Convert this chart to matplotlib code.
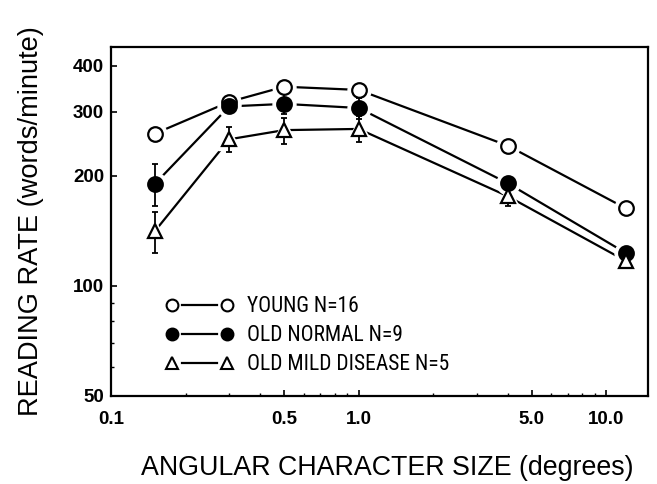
import matplotlib
matplotlib.use("Agg")
import matplotlib.pyplot as plt
from matplotlib.lines import Line2D
from matplotlib.legend_handler import HandlerBase
from matplotlib.ticker import FixedLocator, NullFormatter, FixedFormatter
from matplotlib import font_manager

# ---------------- data ----------------
char_size = [0.15, 0.3, 0.5, 1.0, 4.0, 12.0]

young = [261, 319, 351, 344, 242, 163]
old_normal = [190, 310, 315, 307, 191, 123]
old_normal_err = [25, 0, 20, 20, 0, 0]
old_mild = [141, 252, 267, 269, 176, 117]
old_mild_err = [18, 20, 22, 22, 10, 0]

series_labels = ["YOUNG N=16", "OLD NORMAL N=9", "OLD MILD DISEASE N=5"]

x_major = [0.1, 0.5, 1.0, 5.0, 10.0]
x_major_labels = ["0.1", "0.5", "1.0", "5.0", "10.0"]
x_minor = [0.2, 0.3, 0.4, 0.6, 0.7, 0.8, 0.9, 2, 3, 4, 6, 7, 8, 9]
y_major = [50, 100, 200, 300, 400]
y_major_labels = ["50", "100", "200", "300", "400"]
y_minor = [60, 70, 80, 90]

# ---------------- fonts ----------------
avail = {f.name for f in font_manager.fontManager.ttflist}
base_font = "Liberation Sans" if "Liberation Sans" in avail else "DejaVu Sans"
plt.rcParams["font.family"] = [base_font, "DejaVu Sans"]

legend_font = None
for cand in ["Liberation Sans Narrow", "Roboto Condensed", "DejaVu Sans Condensed",
             "Open Sans Condensed", "Noto Sans Condensed", "Arial Narrow"]:
    if cand in avail:
        legend_font = cand
        break
if legend_font is None:
    for f in font_manager.fontManager.ttflist:
        if str(f.stretch) in ("condensed", "semi-condensed", "extra-condensed") and f.style == "normal":
            legend_font = f.name
            break
if legend_font is None:
    legend_prop = dict(family=base_font, size=13.5)
else:
    legend_prop = dict(family=legend_font, size=15.5, stretch="condensed")

fig = plt.figure(figsize=(6.57, 4.84), dpi=100)
ax = fig.add_axes([0.169, 0.182, 0.817, 0.721])

ax.set_xscale("log")
ax.set_yscale("log")
ax.set_xlim(0.1, 14.7)
ax.set_ylim(50, 451)

lw = 1.6
ms_c = 10.5
ms_t = 10

styles = [
    dict(marker="o", mfc="white", ms=ms_c),
    dict(marker="o", mfc="black", ms=ms_c),
    dict(marker="^", mfc="white", ms=ms_t),
]
data = [young, old_normal, old_mild]
errs = [None, old_normal_err, old_mild_err]

# connecting lines
for y in data:
    ax.plot(char_size, y, "-", color="black", lw=lw, zorder=2)
# white halos to create the gap between line and marker
for y, st in zip(data, styles):
    ax.plot(char_size, y, linestyle="none", marker=st["marker"], ms=st["ms"] + 6,
            mfc="white", mec="white", zorder=2.5)
# error bars
for y, e in zip(data, errs):
    if e is None:
        continue
    ax.errorbar(char_size, y, yerr=e, fmt="none", ecolor="black", elinewidth=1.3,
                capsize=2.5, capthick=1.3, zorder=2.7)
# markers
for y, st in zip(data, styles):
    ax.plot(char_size, y, linestyle="none", marker=st["marker"], ms=st["ms"],
            mfc=st["mfc"], mec="black", mew=1.6, zorder=3)

# ticks
ax.xaxis.set_major_locator(FixedLocator(x_major))
ax.xaxis.set_major_formatter(FixedFormatter(x_major_labels))
ax.xaxis.set_minor_locator(FixedLocator(x_minor))
ax.xaxis.set_minor_formatter(NullFormatter())
ax.yaxis.set_major_locator(FixedLocator(y_major))
ax.yaxis.set_major_formatter(FixedFormatter(y_major_labels))
ax.yaxis.set_minor_locator(FixedLocator(y_minor))
ax.yaxis.set_minor_formatter(NullFormatter())

ax.tick_params(which="major", direction="in", length=4, width=1.2, labelsize=13.5)
ax.tick_params(which="minor", direction="in", length=2.5, width=1.0)
ax.tick_params(axis="x", which="major", pad=11)
ax.tick_params(axis="y", which="major", pad=5)
for lab in ax.get_xticklabels() + ax.get_yticklabels():
    lab.set_fontweight("bold")

for sp in ax.spines.values():
    sp.set_linewidth(1.6)

ax.set_xlabel("ANGULAR CHARACTER SIZE (degrees)", fontsize=19.3)
ax.xaxis.set_label_coords(0.515, -0.168)
ax.set_ylabel("READING RATE (words/minute)", fontsize=19.6, labelpad=21)


# legend: marker — line — marker, with small gaps between line and markers
class GapLineHandler(HandlerBase):
    def __init__(self, marker, mfc, ms):
        super().__init__()
        self.marker = marker
        self.mfc = mfc
        self.ms = ms

    def create_artists(self, legend, orig_handle, xdescent, ydescent, width,
                       height, fontsize, trans):
        y = height / 2.0 - ydescent
        x0 = -xdescent
        x1 = -xdescent + width
        g = self.ms / 2.0 + 3.0
        line = Line2D([x0 + g, x1 - g], [y, y], color="black", lw=lw, transform=trans)
        mk = Line2D([x0, x1], [y, y], linestyle="none", marker=self.marker,
                    ms=self.ms, mfc=self.mfc, mec="black", mew=1.5, transform=trans)
        return [line, mk]


leg_ms = 8.5
handles = []
hmap = {}
for st in styles:
    h = Line2D([], [], color="black", lw=lw, marker=st["marker"], mfc=st["mfc"])
    handles.append(h)
    hmap[h] = GapLineHandler(st["marker"], st["mfc"], leg_ms)

fs_leg = legend_prop["size"]
leg = ax.legend(handles, series_labels, loc="upper left", bbox_to_anchor=(0.098, 0.31),
                frameon=False, handlelength=39.6 / fs_leg, handletextpad=14.4 / fs_leg,
                labelspacing=0.37, borderaxespad=0, handler_map=hmap,
                prop=legend_prop)

fig.savefig("out.png", dpi=100)
